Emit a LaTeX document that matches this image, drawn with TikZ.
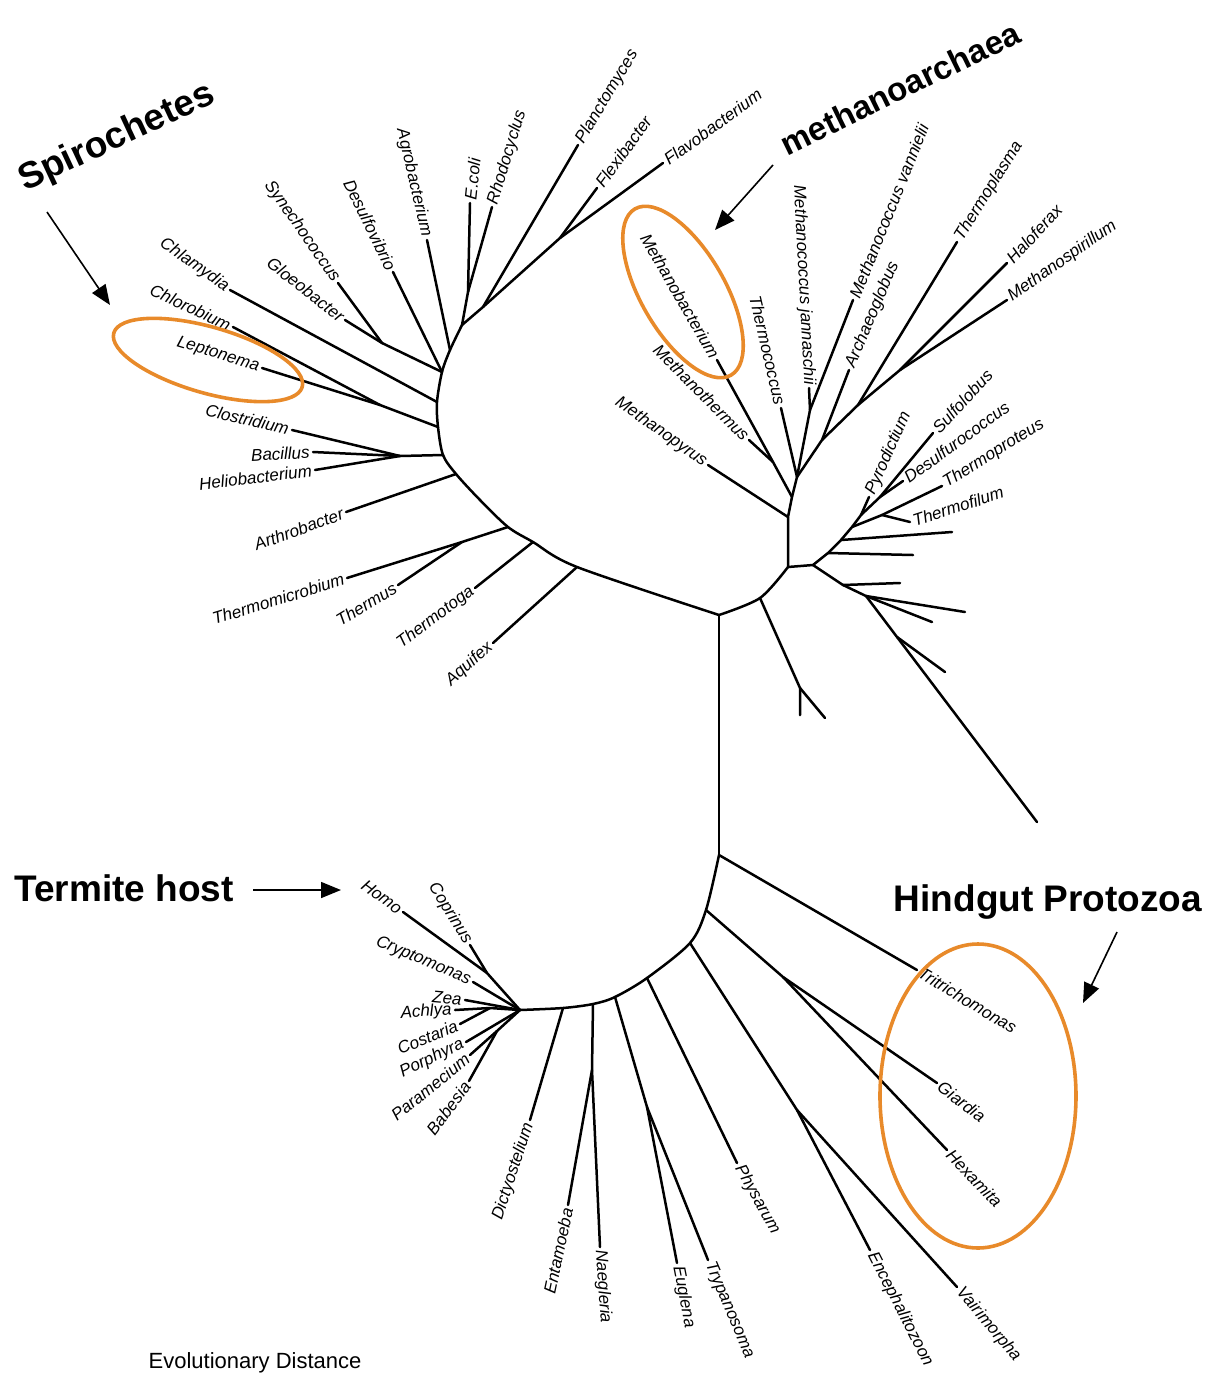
\documentclass[tikz,border=0pt]{standalone}
\usepackage{fontspec}
\setmainfont{Liberation Sans}
\usetikzlibrary{arrows.meta}
\definecolor{hl}{RGB}{232,138,42}
\tikzset{
  br/.style={line width=1.25pt, line cap=round, line join=round},
  lbl/.style={font=\fontsize{8.5}{9}\selectfont\itshape, inner sep=1.5pt},
  lE/.style={lbl, anchor=east, rotate=#1},
  lW/.style={lbl, anchor=west, rotate=#1},
  big/.style={font=\fontsize{18.5}{20}\selectfont\bfseries, inner sep=0pt},
  ann/.style={line width=0.8pt, -{Triangle[length=10pt,width=8pt]}},
  oval/.style={draw=hl, line width=1.8pt}
}
\begin{document}
\begin{tikzpicture}[x=0.5pt,y=-0.5pt]
\clip (0,0) rectangle (1210,1382);
% ---------- trunk ----------
\coordinate (tb) at (719,615);
\coordinate (te) at (719,855);
\draw[br] (tb) -- (te);
% ---------- bacteria backbone ----------
\coordinate (bAq) at (577,567);
\coordinate (bTt) at (533,542);
\coordinate (bTm) at (508,527);
\coordinate (bMid) at (480,500);
\coordinate (bAr) at (456,474);
\coordinate (bGp) at (443,455);
\coordinate (bCl) at (438,427);
\coordinate (bCh) at (437,402);
\coordinate (bCy) at (442,372);
\coordinate (bAg) at (450,350);
\coordinate (bTop) at (462,325);
\draw[br] plot[smooth, tension=0.5] coordinates {(tb) (bAq) (bTt) (bTm) (bMid) (bAr) (bGp) (bCl) (bCh) (bCy) (bAg) (bTop)};
% bacteria tips and subnodes
\coordinate (tAquifex) at (493,643);
\coordinate (tThermotoga) at (475,588);
\coordinate (sThm) at (462,542);
\coordinate (tThermomicrobium) at (347,578);
\coordinate (tThermus) at (398,585);
\coordinate (tArthrobacter) at (346,512);
\coordinate (sGp) at (400,456);
\coordinate (tBacillus) at (313,452);
\coordinate (tHelio) at (315,470);
\coordinate (tClostridium) at (292,430);
\coordinate (sCl) at (380,405);
\coordinate (tChlorobium) at (233,327);
\coordinate (tLeptonema) at (262,368);
\coordinate (tChlamydia) at (230,290);
\coordinate (sCy) at (382,343);
\coordinate (tSynechococcus) at (338,283);
\coordinate (tGloeobacter) at (345,320);
\coordinate (tDesulfovibrio) at (393,272);
\coordinate (tAgrobacterium) at (427,240);
\coordinate (sEr) at (468,292);
\coordinate (tEcoli) at (470,203);
\coordinate (tRhodocyclus) at (492,207);
\coordinate (sPf) at (483,307);
\coordinate (tPlancto) at (578,145);
\coordinate (sFf) at (560,238);
\coordinate (tFlexi) at (597,188);
\coordinate (tFlavo) at (663,163);
\draw[br] (bAq) -- (tAquifex);
\draw[br] (bTt) -- (tThermotoga);
\draw[br] (bTm) -- (sThm) -- (tThermomicrobium);
\draw[br] (sThm) -- (tThermus);
\draw[br] (bAr) -- (tArthrobacter);
\draw[br] (bGp) -- (sGp) -- (tBacillus);
\draw[br] (sGp) -- (tHelio);
\draw[br] (sGp) -- (tClostridium);
\draw[br] (bCl) -- (sCl) -- (tLeptonema);
\draw[br] (sCl) -- (tChlorobium);
\draw[br] (bCh) -- (tChlamydia);
\draw[br] (bCy) -- (sCy) -- (tGloeobacter);
\draw[br] (sCy) -- (tSynechococcus);
\draw[br] (bCy) -- (tDesulfovibrio);
\draw[br] (bAg) -- (tAgrobacterium);
\draw[br] (bTop) -- (sEr) -- (tEcoli);
\draw[br] (sEr) -- (tRhodocyclus);
\draw[br] (bTop) -- (sPf) -- (tPlancto);
\draw[br] (sPf) -- (sFf) -- (tFlavo);
\draw[br] (sFf) -- (tFlexi);
% bacteria labels
\node[lE=42] (nAquifex) at (tAquifex) {Aquifex};
\node[lE=37] (nThermotoga) at (tThermotoga) {Thermotoga};
\node[lE=17] (nThermomicrobium) at (tThermomicrobium) {Thermomicrobium};
\node[lE=31] (nThermus) at (tThermus) {Thermus};
\node[lE=20] (nArthrobacter) at (tArthrobacter) {Arthrobacter};
\node[lE=3] (nBacillus) at (tBacillus) {Bacillus};
\node[lE=7] (nHelio) at (tHelio) {Heliobacterium};
\node[lE=-13.5] (nClostridium) at (tClostridium) {Clostridium};
\node[lE=-17] (nLeptonema) at (tLeptonema) {Leptonema};
\node[lE=-25] (nChlorobium) at (tChlorobium) {Chlorobium};
\node[lE=-35] (nChlamydia) at (tChlamydia) {Chlamydia};
\node[lE=-38] (nGloeobacter) at (tGloeobacter) {Gloeobacter};
\node[lE=-55] (nSynechococcus) at (tSynechococcus) {Synechococcus};
\node[lE=-64] (nDesulfovibrio) at (tDesulfovibrio) {Desulfovibrio};
\node[lE=-77] (nAgrobacterium) at (tAgrobacterium) {Agrobacterium};
\node[lW=84] (nEcoli) at (tEcoli) {E.coli};
\node[lW=73] (nRhodocyclus) at (tRhodocyclus) {Rhodocyclus};
\node[lW=59] (nPlancto) at (tPlancto) {Planctomyces};
\node[lW=54] (nFlexi) at (tFlexi) {Flexibacter};
\node[lW=36] (nFlavo) at (tFlavo) {Flavobacterium};
% ---------- archaea ----------
\coordinate (a0) at (760,598);
\coordinate (aBase) at (788,567);
\coordinate (cren) at (813,565);
\draw[br] plot[smooth, tension=0.5] coordinates {(tb) (a0) (aBase)};
\draw[br] (aBase) -- (cren);
\coordinate (a0s) at (800,688);
\coordinate (tU8) at (800,715);
\coordinate (tU9) at (825,718);
\draw[br] (a0) -- (a0s) -- (tU8);
\draw[br] (a0s) -- (tU9);
\coordinate (a1) at (788,517);
\coordinate (a2) at (792,497);
\coordinate (a3) at (797,477);
\draw[br] (aBase) -- (a1) -- (a2) -- (a3);
\coordinate (tMethanopyrus) at (708,465);
\coordinate (sMb) at (773,462);
\coordinate (tMethanobacterium) at (717,360);
\coordinate (tMethanothermus) at (749,440);
\coordinate (tThermococcus) at (781,408);
\coordinate (sMjv) at (810,410);
\coordinate (tMj) at (809,388);
\coordinate (tMv) at (853,300);
\coordinate (a4) at (822,440);
\coordinate (tArchaeo) at (849,370);
\coordinate (a5) at (858,405);
\coordinate (tThermoplasma) at (957,242);
\coordinate (sHalo) at (900,370);
\coordinate (tHaloferax) at (1007,263);
\coordinate (tMethanospirillum) at (1007,300);
\draw[br] (a1) -- (tMethanopyrus);
\draw[br] (a2) -- (sMb) -- (tMethanobacterium);
\draw[br] (sMb) -- (tMethanothermus);
\draw[br] (a3) -- (tThermococcus);
\draw[br] (a3) -- (sMjv) -- (tMj);
\draw[br] (sMjv) -- (tMv);
\draw[br] (a3) -- (a4) -- (tArchaeo);
\draw[br] (a4) -- (a5) -- (tThermoplasma);
\draw[br] (a5) -- (sHalo) -- (tHaloferax);
\draw[br] (sHalo) -- (tMethanospirillum);
\node[lE=-35] (nMethanopyrus) at (tMethanopyrus) {Methanopyrus};
\node[lE=-60] (nMethanobacterium) at (tMethanobacterium) {Methanobacterium};
\node[lE=-45] (nMethanothermus) at (tMethanothermus) {Methanothermus};
\node[lE=-77] (nThermococcus) at (tThermococcus) {Thermococcus};
\node[lE=-87] (nMj) at (tMj) {Methanococcus jannaschii};
\node[lW=68] (nMv) at (tMv) {Methanococcus vannielii};
\node[lW=67] (nArchaeo) at (tArchaeo) {Archaeoglobus};
\node[lW=58] (nThermoplasma) at (tThermoplasma) {Thermoplasma};
\node[lW=47] (nHaloferax) at (tHaloferax) {Haloferax};
\node[lW=35] (nMethanospirillum) at (tMethanospirillum) {Methanospirillum};
% crenarchaeota fan
\coordinate (cr0) at (828,553);
\coordinate (cr1) at (841,540);
\coordinate (cr2) at (852,527);
\coordinate (py) at (861,515);
\coordinate (ds) at (880,497);
\coordinate (tSulfolobus) at (933,433);
\draw[br] (cren) -- (cr0) -- (cr1) -- (cr2) -- (py) -- (ds) -- (tSulfolobus);
\coordinate (tU1) at (913,555);
\coordinate (tU2) at (952,532);
\coordinate (sTt) at (882,515);
\coordinate (tThermoproteus) at (942,486);
\coordinate (tThermofilum) at (910,522);
\coordinate (tPyrodictium) at (869,497);
\coordinate (tDesulfuro) at (903,481);
\draw[br] (cr0) -- (tU1);
\draw[br] (cr1) -- (tU2);
\draw[br] (cr2) -- (sTt) -- (tThermoproteus);
\draw[br] (sTt) -- (tThermofilum);
\draw[br] (py) -- (tPyrodictium);
\draw[br] (ds) -- (tDesulfuro);
\node[lW=47] (nSulfolobus) at (tSulfolobus) {Sulfolobus};
\node[lW=32] (nThermoproteus) at (tThermoproteus) {Thermoproteus};
\node[lW=18] (nThermofilum) at (tThermofilum) {Thermofilum};
\node[lW=66] (nPyrodictium) at (tPyrodictium) {Pyrodictium};
\node[lW=36] (nDesulfuro) at (tDesulfuro) {Desulfurococcus};
% lower unlabeled fan
\coordinate (s1) at (843,585);
\coordinate (s1b) at (866,596);
\coordinate (s2) at (897,637);
\coordinate (tU3) at (900,583);
\coordinate (tU4) at (965,612);
\coordinate (tU5) at (932,622);
\coordinate (tU6) at (945,672);
\coordinate (tU7) at (1037,822);
\draw[br] (cren) -- (s1) -- (s1b) -- (s2) -- (tU7);
\draw[br] (s1) -- (tU3);
\draw[br] (s1b) -- (tU4);
\draw[br] (s1b) -- (tU5);
\draw[br] (s2) -- (tU6);
% ---------- eukaryotes ----------
\coordinate (e1) at (706,910);
\coordinate (e2) at (690,943);
\coordinate (e3) at (647,978);
\coordinate (e4) at (615,997);
\coordinate (e5) at (593,1004);
\coordinate (e6) at (563,1008);
\coordinate (crown) at (520,1010);
\draw[br] plot[smooth, tension=0.5] coordinates {(te) (e1) (e2) (e3) (e4) (e5) (e6) (crown)};
\coordinate (tTritricho) at (917,970);
\coordinate (sGh) at (783,977);
\coordinate (tGiardia) at (937,1083);
\coordinate (tHexamita) at (947,1150);
\coordinate (sMs) at (797,1110);
\coordinate (tEnceph) at (870,1250);
\coordinate (tVairi) at (957,1287);
\coordinate (tPhysarum) at (737,1163);
\coordinate (sEt) at (647,1107);
\coordinate (tEuglena) at (677,1263);
\coordinate (tTrypano) at (708,1260);
\coordinate (sEn) at (592,1070);
\coordinate (tEntamoeba) at (568,1205);
\coordinate (tNaegleria) at (600,1247);
\coordinate (tDictyo) at (530,1120);
\draw[br] (te) -- (tTritricho);
\draw[br] (e1) -- (sGh) -- (tGiardia);
\draw[br] (sGh) -- (tHexamita);
\draw[br] (e2) -- (sMs) -- (tEnceph);
\draw[br] (sMs) -- (tVairi);
\draw[br] (e3) -- (tPhysarum);
\draw[br] (e4) -- (sEt) -- (tEuglena);
\draw[br] (sEt) -- (tTrypano);
\draw[br] (e5) -- (sEn) -- (tNaegleria);
\draw[br] (sEn) -- (tEntamoeba);
\draw[br] (e6) -- (tDictyo);
\node[lW=-31] (nTritricho) at (tTritricho) {Tritrichomonas};
\node[lW=-37] (nGiardia) at (tGiardia) {Giardia};
\node[lW=-46] (nHexamita) at (tHexamita) {Hexamita};
\node[lW=-63] (nEnceph) at (tEnceph) {Encephalitozoon};
\node[lW=-50] (nVairi) at (tVairi) {Vairimorpha};
\node[lW=-61] (nPhysarum) at (tPhysarum) {Physarum};
\node[lW=-79] (nEuglena) at (tEuglena) {Euglena};
\node[lW=-67] (nTrypano) at (tTrypano) {Trypanosoma};
\node[lW=-86] (nNaegleria) at (tNaegleria) {Naegleria};
\node[lE=78] (nEntamoeba) at (tEntamoeba) {Entamoeba};
\node[lE=72] (nDictyo) at (tDictyo) {Dictyostelium};
% crown group
\coordinate (sOp) at (487,973);
\coordinate (tHomo) at (403,912);
\coordinate (tCoprinus) at (470,945);
\coordinate (tCrypto) at (473,982);
\coordinate (tZea) at (465,1000);
\coordinate (sAc) at (490,1008);
\coordinate (tAchlya) at (455,1010);
\coordinate (tCostaria) at (460,1024);
\coordinate (tPorphyra) at (466,1042);
\coordinate (tParamecium) at (470,1055);
\coordinate (sPb) at (497,1031);
\coordinate (tBabesia) at (469,1081);
\draw[br] (crown) -- (sOp) -- (tHomo);
\draw[br] (sOp) -- (tCoprinus);
\draw[br] (crown) -- (tCrypto);
\draw[br] (crown) -- (tZea);
\draw[br] (crown) -- (sAc) -- (tAchlya);
\draw[br] (sAc) -- (tCostaria);
\draw[br] (crown) -- (tPorphyra);
\draw[br] (crown) -- (sPb) -- (tParamecium);
\draw[br] (sPb) -- (tBabesia);
\node[lE=-36] (nHomo) at (tHomo) {Homo};
\node[lE=-58] (nCoprinus) at (tCoprinus) {Coprinus};
\node[lE=-23] (nCrypto) at (tCrypto) {Cryptomonas};
\node[lE=-5] (nZea) at (tZea) {Zea};
\node[lE=4] (nAchlya) at (tAchlya) {Achlya};
\node[lE=22] (nCostaria) at (tCostaria) {Costaria};
\node[lE=26] (nPorphyra) at (tPorphyra) {Porphyra};
\node[lE=39] (nParamecium) at (tParamecium) {Paramecium};
\node[lE=53] (nBabesia) at (tBabesia) {Babesia};
% ---------- highlights ----------
\coordinate (lepC) at (208,360);
\coordinate (mbC) at (683,292);
\coordinate (hgC) at (978,1096);
\draw[oval, rotate around={-16:(lepC)}] (lepC) ellipse [x radius=98, y radius=33];
\draw[oval, rotate around={-60:(mbC)}] (mbC) ellipse [x radius=96, y radius=42];
\draw[oval] (hgC) ellipse [x radius=98, y radius=152];
% ---------- annotations ----------
\node[big, rotate=25] (spiro) at (117,138) {Spirochetes};
\node[big, rotate=26, font=\fontsize{16.5}{18}\selectfont\bfseries] (methano) at (900,88) {methanoarchaea};
\node[big] (termite) at (124,888) {Termite host};
\node[big] (hindgut) at (1048,902) {Hindgut Protozoa};
\node[font=\fontsize{11}{12}\selectfont] (evo) at (255,1363) {Evolutionary Distance};
\coordinate (spA) at (47,212);
\coordinate (spB) at (110,305);
\coordinate (meA) at (773,165);
\coordinate (meB) at (715,230);
\coordinate (teA) at (253,890);
\coordinate (teB) at (341,890);
\coordinate (hgA) at (1117,932);
\coordinate (hgB) at (1083,1003);
\draw[ann] (spA) -- (spB);
\draw[ann] (meA) -- (meB);
\draw[ann] (teA) -- (teB);
\draw[ann] (hgA) -- (hgB);
\end{tikzpicture}
\end{document}
